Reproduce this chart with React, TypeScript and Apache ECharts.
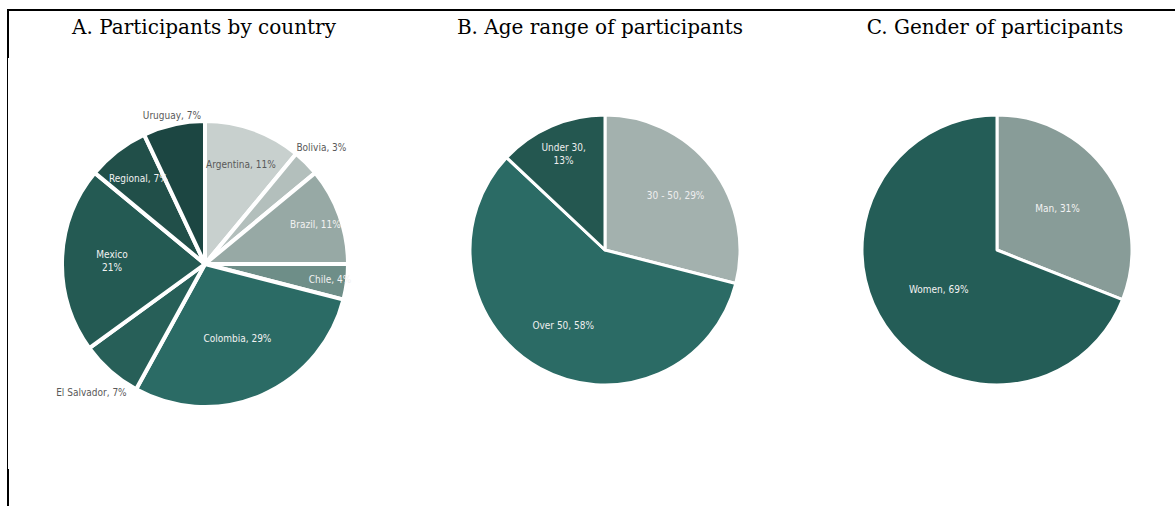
import React, { useEffect, useRef } from "react";
import * as echarts from "echarts";

// A. Participants by country
const countryNames = ["Argentina", "Bolivia", "Brazil", "Chile", "Colombia", "El Salvador", "Mexico", "Regional", "Uruguay"];
const countryShares = [11, 3, 11, 4, 29, 7, 21, 7, 7];
const countryColors = ["#c8d0ce", "#b3bfbc", "#97a9a5", "#6e8e88", "#2b6b65", "#275f58", "#245a53", "#214f49", "#1c4642"];
const countryLabelColors = ["#595959", "#595959", "#f2f2f2", "#f2f2f2", "#f2f2f2", "#595959", "#f2f2f2", "#f2f2f2", "#595959"];

// B. Age range of participants
const ageNames = ["30 - 50", "Over 50", "Under 30"];
const ageShares = [29, 58, 13];
const ageColors = ["#a3b1ae", "#2b6b65", "#245750"];
const ageLabelColors = ["#eeeeee", "#eeeeee", "#eeeeee"];

// C. Gender of participants
const genderNames = ["Man", "Women"];
const genderShares = [31, 69];
const genderColors = ["#889c98", "#245d57"];
const genderLabelColors = ["#f2f2f2", "#f2f2f2"];

// names whose label breaks onto two lines
const wrappedLabels: Record<string, string> = { Mexico: "", "Under 30": "," };

// label distance from the centre, as a fraction of the pie radius
const countryLabelRadius = [0.72, 1.13, 0.8, 0.86, 0.55, 1.18, 0.63, 0.74, 1.04];
const ageLabelRadius = [0.64, 0.62, 0.75];
const genderLabelRadius = [0.52, 0.5];

const labelFont = "'DejaVu Sans Condensed', 'Liberation Sans Narrow', 'Roboto Condensed', 'DejaVu Sans', sans-serif";

function formatLabel(name: string, value: number) {
  if (name in wrappedLabels) return `${name}${wrappedLabels[name]}\n${value}%`;
  return `${name}, ${value}%`;
}

function pieSeries(
  key: string,
  center: [number, number],
  R: number,
  names: string[],
  values: number[],
  colors: string[],
  labelColors: string[],
  labelRadius: number[],
  gap: number
) {
  const base = {
    type: "pie",
    center,
    startAngle: 90,
    clockwise: true,
    avoidLabelOverlap: false,
    silent: true,
    emphasis: { disabled: true },
    labelLine: { show: false },
  };
  const series: any[] = [
    {
      ...base,
      id: key,
      radius: [0, R],
      itemStyle: { borderColor: "#ffffff", borderWidth: gap },
      label: { show: false },
      data: names.map((n, i) => ({ name: n, value: values[i], itemStyle: { color: colors[i] } })),
    },
  ];
  // transparent rings whose mid-radius carries the labels
  const ratios = Array.from(new Set(labelRadius));
  ratios.forEach((k, j) => {
    const other = (2 * k - 1) * R;
    series.push({
      ...base,
      id: `${key}-labels-${j}`,
      radius: [Math.min(R, other), Math.max(R, other)],
      itemStyle: { color: "rgba(0,0,0,0)", borderWidth: 0 },
      label: {
        show: true,
        position: "inside",
        fontFamily: labelFont,
        fontSize: 10,
        lineHeight: 13,
        formatter: (p: any) => formatLabel(p.name, p.value),
      },
      data: names.map((n, i) => ({
        name: n,
        value: values[i],
        label: { show: labelRadius[i] === k, color: labelColors[i] },
      })),
    });
  });
  return series;
}

export default function App() {
  const ref = useRef<HTMLDivElement>(null);

  useEffect(() => {
    if (!ref.current) return;
    const chart = echarts.init(ref.current, undefined, { renderer: "svg" });
    const titleStyle = { fontFamily: "'DejaVu Serif', 'Liberation Serif', serif", fontSize: 20, fontWeight: "normal" as const, color: "#000000" };
    chart.setOption({
      animation: false,
      backgroundColor: "#ffffff",
      title: [
        { text: "A. Participants by country", left: 199, top: 12, textAlign: "center", textStyle: titleStyle },
        { text: "B. Age range of participants", left: 595, top: 12, textAlign: "center", textStyle: titleStyle },
        { text: "C. Gender of participants", left: 990, top: 12, textAlign: "center", textStyle: titleStyle },
      ],
      graphic: [
        { type: "rect", silent: true, shape: { x: 7, y: 9, width: 1168, height: 2 }, style: { fill: "#000000" } },
        { type: "rect", silent: true, shape: { x: 7, y: 9, width: 2, height: 49 }, style: { fill: "#000000" } },
        { type: "rect", silent: true, shape: { x: 7, y: 58, width: 1, height: 411 }, style: { fill: "#000000" } },
        { type: "rect", silent: true, shape: { x: 7, y: 469, width: 2, height: 37 }, style: { fill: "#000000" } },
      ],
      series: [
        ...pieSeries("country", [205, 264], 143, countryNames, countryShares, countryColors, countryLabelColors, countryLabelRadius, 4),
        ...pieSeries("age", [605, 250], 135, ageNames, ageShares, ageColors, ageLabelColors, ageLabelRadius, 3),
        ...pieSeries("gender", [997, 250], 135, genderNames, genderShares, genderColors, genderLabelColors, genderLabelRadius, 3),
      ],
    });
    return () => chart.dispose();
  }, []);

  return (
    <div
      ref={ref}
      style={{ position: "fixed", left: 0, top: 0, width: 1175, height: 506, background: "#ffffff" }}
    />
  );
}
